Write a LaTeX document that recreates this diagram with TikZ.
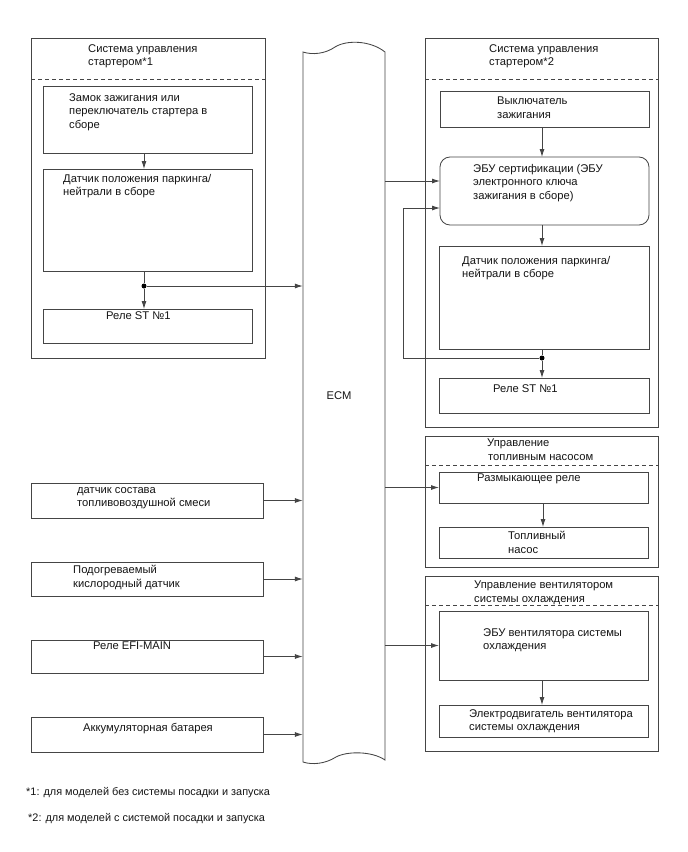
\documentclass[tikz,border=0pt]{standalone}
\usepackage{fontspec}
\setmainfont{Liberation Sans}
\usetikzlibrary{arrows.meta}
\definecolor{linec}{HTML}{454545}
\definecolor{txtc}{HTML}{151515}
\begin{document}
\begin{tikzpicture}[x=1pt,y=-1pt,
  ln/.style={draw=linec, line width=0.85pt},
  arr/.style={ln, -{Latex[length=8pt,width=5pt]}},
  dsh/.style={draw=linec, line width=0.85pt, dash pattern=on 4pt off 3pt},
  bx/.style={ln, rectangle, inner sep=0pt, outer sep=0pt},
  rbx/.style={bx, rounded corners=10pt},
  lbl/.style={inner sep=0pt, anchor=north west, align=left, text=txtc, yshift=-1pt,
              font=\fontsize{11.2}{13.5}\selectfont},
  dot/.style={circle, fill=black, inner sep=0pt, minimum size=5pt}]
\path[fill=white, use as bounding box] (0,0) rectangle (688,852);

% ---------- ECM ----------
\node[inner sep=0pt, minimum width=82pt, minimum height=710pt] (ecm) at (344,407) {};
\draw[ln] (303,52) .. controls (312,55) and (325,54) .. (335,47)
          .. controls (346,40) and (370,40) .. (385,52)
          -- (385,760)
          .. controls (372,751) and (347,751) .. (336,757)
          .. controls (325,764) and (312,765) .. (303,762) -- cycle;
\node[lbl, anchor=center] (ecmlbl) at (339,395) {ECM};

% ---------- left top group ----------
\node[bx, minimum width=234pt, minimum height=320pt] (l1) at (148,198) {};
\draw[dsh] ([yshift=-41pt]l1.north west) -- ([yshift=-41pt]l1.north east);
\node[lbl] (l1t) at (88,43) {Система управления\\стартером*1};
\node[bx, minimum width=209pt, minimum height=67pt] (la) at (147.5,119.5) {};
\node[lbl] (lat) at (69,92) {Замок зажигания или\\переключатель стартера в\\сборе};
\node[bx, minimum width=209pt, minimum height=102pt] (lb) at (147.5,220) {};
\node[lbl] (lbt) at (63,173) {Датчик положения паркинга/\\нейтрали в сборе};
\node[bx, minimum width=209pt, minimum height=34pt] (lc) at (147.5,326) {};
\node[lbl] (lct) at (106,310) {Реле ST №1};
\node[dot] (j1) at (144,286) {};
\draw[arr] (la.south -| j1) -- (lb.north -| j1);
\draw[ln] (lb.south -| j1) -- (j1);
\draw[arr] (j1) -- (lc.north -| j1);
\draw[arr] (j1) -- (j1 -| ecm.west);

% ---------- left inputs ----------
\node[bx, minimum width=232pt, minimum height=35pt] (a) at (147,500.5) {};
\node[lbl] (at) at (77,486) {датчик состава\\топливовоздушной смеси};
\node[bx, minimum width=232pt, minimum height=34pt] (b) at (147,579) {};
\node[lbl] (bt) at (73,564) {Подогреваемый\\кислородный датчик};
\node[bx, minimum width=232pt, minimum height=33pt] (c) at (147,656.5) {};
\node[lbl] (ct) at (93,641) {Реле EFI-MAIN};
\node[bx, minimum width=232pt, minimum height=35pt] (d) at (147,734.5) {};
\node[lbl] (dt) at (83,722) {Аккумуляторная батарея};
\draw[arr] (a.east) -- (a.east -| ecm.west);
\draw[arr] (b.east) -- (b.east -| ecm.west);
\draw[arr] (c.east) -- (c.east -| ecm.west);
\draw[arr] (d.east) -- (d.east -| ecm.west);

% ---------- right top group ----------
\node[bx, minimum width=233pt, minimum height=389pt] (r1) at (541.5,232.5) {};
\draw[dsh] ([yshift=-41pt]r1.north west) -- ([yshift=-41pt]r1.north east);
\node[lbl] (r1t) at (489,43) {Система управления\\стартером*2};
\node[bx, minimum width=209pt, minimum height=36pt] (ra) at (544.5,109) {};
\node[lbl] (rat) at (497,96) {Выключатель\\зажигания};
\node[rbx, minimum width=209pt, minimum height=68pt] (rb) at (544.5,191) {};
\node[lbl] (rbt) at (473,163) {ЭБУ сертификации (ЭБУ\\электронного ключа\\зажигания в сборе)};
\node[bx, minimum width=210pt, minimum height=103pt] (rc) at (544,297.5) {};
\node[lbl] (rct) at (462,255) {Датчик положения паркинга/\\нейтрали в сборе};
\node[bx, minimum width=210pt, minimum height=35pt] (rd) at (544,395.5) {};
\node[lbl] (rdt) at (493,383) {Реле ST №1};
\node[dot] (j2) at (542,358) {};
\coordinate (o1) at (0,181);
\coordinate (fb1) at (403,358);
\coordinate (fb2) at (403,208);
\draw[arr] (ra.south -| j2) -- (rb.north -| j2);
\draw[arr] (rb.south -| j2) -- (rc.north -| j2);
\draw[ln] (rc.south -| j2) -- (j2);
\draw[arr] (j2) -- (rd.north -| j2);
\draw[arr] (ecm.east |- o1) -- (rb.west |- o1);
\draw[arr] (j2) -- (fb1) -- (fb2) -- (fb2 -| rb.west);

% ---------- fuel pump group ----------
\node[bx, minimum width=233pt, minimum height=131pt] (r2) at (541.5,501.5) {};
\draw[dsh] ([yshift=-29pt]r2.north west) -- ([yshift=-29pt]r2.north east);
\node[lbl] (r2t) at (487,438) {Управление\\\hspace*{1pt}топливным насосом};
\node[bx, minimum width=209pt, minimum height=31pt] (r2a) at (543.5,487.5) {};
\node[lbl] (r2at) at (477,473) {Размыкающее реле};
\node[bx, minimum width=209pt, minimum height=31pt] (r2b) at (543.5,542.5) {};
\node[lbl] (r2bt) at (508,530) {Топливный\\насос};
\draw[arr] (r2a.south -| 543,0) -- (r2b.north -| 543,0);
\draw[arr] (ecm.east |- r2a.west) -- (r2a.west);

% ---------- fan group ----------
\node[bx, minimum width=233pt, minimum height=175pt] (r3) at (541.5,663.5) {};
\draw[dsh] ([yshift=-29pt]r3.north west) -- ([yshift=-29pt]r3.north east);
\node[lbl] (r3t) at (474,580) {Управление вентилятором\\системы охлаждения};
\node[bx, minimum width=209pt, minimum height=69pt] (r3a) at (543.5,645.5) {};
\node[lbl] (r3at) at (483,627) {ЭБУ вентилятора системы\\охлаждения};
\node[bx, minimum width=209pt, minimum height=32pt] (r3b) at (543.5,721) {};
\node[lbl] (r3bt) at (469,708) {Электродвигатель вентилятора\\системы охлаждения};
\draw[arr] (r3a.south -| 542,0) -- (r3b.north -| 542,0);
\draw[arr] (ecm.east |- r3a.west) -- (r3a.west);

% ---------- footnotes ----------
\node[lbl, font=\fontsize{10.9}{13}\selectfont] (f1) at (26,786) {*1: для моделей без системы посадки и запуска};
\node[lbl, font=\fontsize{10.9}{13}\selectfont] (f2) at (28,812) {*2: для моделей с системой посадки и запуска};
\end{tikzpicture}
\end{document}
